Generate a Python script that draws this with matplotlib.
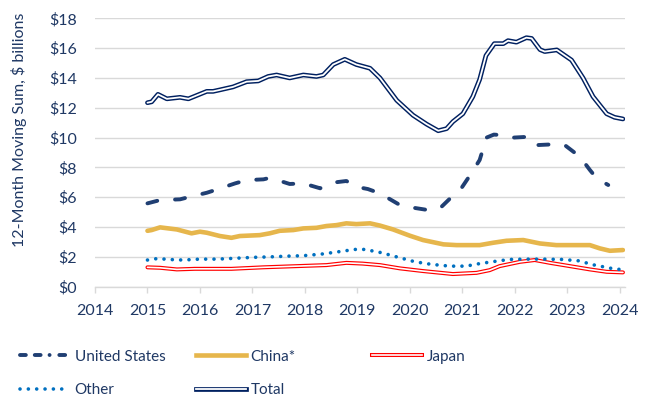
import matplotlib
matplotlib.use('Agg')
import matplotlib.pyplot as plt
from matplotlib.lines import Line2D
from matplotlib.legend_handler import HandlerTuple

plt.rcParams['font.family'] = ['Lato', 'DejaVu Sans']

NAVY_TXT = '#1F3864'
GRID = '#D9D9D9'

# Total (double navy line)
total_x = [2015.0, 2015.08, 2015.2, 2015.37, 2015.62, 2015.78, 2016.13, 2016.25, 2016.38,
           2016.63, 2016.89, 2017.11, 2017.3, 2017.46, 2017.71, 2017.97, 2018.22, 2018.35,
           2018.54, 2018.76, 2018.98, 2019.24, 2019.43, 2019.75, 2020.06, 2020.32, 2020.54,
           2020.7, 2020.82, 2021.01, 2021.2, 2021.33, 2021.45, 2021.61, 2021.78, 2021.87,
           2022.03, 2022.22, 2022.32, 2022.48, 2022.57, 2022.8, 2023.08, 2023.3, 2023.49,
           2023.75, 2023.9, 2024.06]
total_y = [12.34, 12.4, 12.9, 12.6, 12.7, 12.6, 13.1, 13.1, 13.2,
           13.4, 13.75, 13.8, 14.1, 14.2, 14.0, 14.2, 14.1, 14.2,
           14.9, 15.25, 14.9, 14.65, 14.0, 12.5, 11.5, 10.9, 10.46,
           10.6, 11.07, 11.6, 12.75, 13.9, 15.5, 16.3, 16.3, 16.5,
           16.4, 16.7, 16.65, 15.9, 15.77, 15.88, 15.2, 14.0, 12.75,
           11.6, 11.36, 11.25]

# United States (dashed)
us_x = [2015.0, 2015.24, 2015.62, 2015.81, 2016.13, 2016.35, 2016.67, 2016.89, 2017.21,
        2017.33, 2017.43, 2017.71, 2017.97, 2018.29, 2018.51, 2018.79, 2018.98, 2019.2,
        2019.43, 2019.81, 2020.06, 2020.35, 2020.57, 2020.79, 2020.98, 2021.17, 2021.33,
        2021.46, 2021.6, 2021.75, 2021.97, 2022.29, 2022.44, 2022.86, 2022.95, 2023.24,
        2023.43, 2023.56, 2023.78]
us_y = [5.59, 5.81, 5.86, 6.03, 6.3, 6.55, 6.93, 7.15, 7.2,
        7.3, 7.2, 6.89, 6.93, 6.6, 6.97, 7.09, 6.7, 6.55,
        6.26, 5.48, 5.3, 5.14, 5.25, 6.0, 6.6, 7.6, 8.5,
        10.0, 10.2, 10.17, 10.0, 10.06, 9.5, 9.57, 9.5, 8.72,
        7.83, 7.27, 6.82]

# China*
cn_x = [2015.0, 2015.08, 2015.24, 2015.56, 2015.84, 2016.0, 2016.13, 2016.38, 2016.6,
        2016.76, 2017.14, 2017.33, 2017.52, 2017.78, 2017.97, 2018.22, 2018.41, 2018.6,
        2018.79, 2018.98, 2019.24, 2019.43, 2019.68, 2020.0, 2020.25, 2020.64, 2020.89,
        2021.33, 2021.59, 2021.84, 2022.16, 2022.48, 2022.79, 2023.11, 2023.43, 2023.62,
        2023.81, 2024.06]
cn_y = [3.75, 3.8, 3.98, 3.84, 3.58, 3.69, 3.62, 3.4, 3.28,
        3.4, 3.46, 3.58, 3.75, 3.8, 3.91, 3.95, 4.07, 4.13,
        4.25, 4.2, 4.25, 4.1, 3.84, 3.42, 3.13, 2.84, 2.79,
        2.79, 2.95, 3.08, 3.13, 2.9, 2.79, 2.79, 2.79, 2.57,
        2.41, 2.46]

# Japan (double red line)
jp_x = [2015.0, 2015.24, 2015.56, 2015.9, 2016.6, 2017.2, 2017.84, 2018.41, 2018.79,
        2019.1, 2019.43, 2019.81, 2020.25, 2020.82, 2021.27, 2021.52, 2021.71, 2022.1,
        2022.38, 2022.67, 2023.05, 2023.43, 2023.75, 2024.06]
jp_y = [1.3, 1.27, 1.16, 1.2, 1.2, 1.3, 1.38, 1.45, 1.6,
        1.55, 1.45, 1.23, 1.05, 0.85, 0.93, 1.11, 1.38, 1.67,
        1.79, 1.6, 1.38, 1.16, 1.0, 0.96]

# Other (dotted)
ot_x = [2015.0, 2015.21, 2015.37, 2015.68, 2016.0, 2016.33, 2016.63, 2017.02, 2017.33,
        2017.65, 2017.97, 2018.32, 2018.63, 2018.95, 2019.14, 2019.3, 2019.46, 2019.78,
        2020.1, 2020.41, 2020.76, 2021.08, 2021.24, 2021.56, 2021.9, 2022.22, 2022.54,
        2022.89, 2023.21, 2023.52, 2023.84, 2024.0]
ot_y = [1.79, 1.9, 1.83, 1.79, 1.85, 1.85, 1.9, 1.97, 2.0,
        2.05, 2.08, 2.19, 2.34, 2.5, 2.5, 2.39, 2.28, 1.97,
        1.67, 1.5, 1.38, 1.38, 1.5, 1.67, 1.83, 1.85, 1.85,
        1.83, 1.74, 1.45, 1.23, 1.16]

y_ticks = list(range(0, 20, 2))
x_ticks = list(range(2014, 2025))

US_C, CN_C, JP_C, OT_C, TOT_C = '#203F73', '#E6B64C', '#FF0000', '#0070C0', '#002060'

fig = plt.figure(figsize=(6.56, 4.04), dpi=100)
ax = fig.add_axes([0.1448, 0.2903, 0.808, 0.6644])

ax.plot(us_x, us_y, color=US_C, lw=2.8, linestyle=(0, (2.6, 4.6)),
        dash_capstyle='round', solid_capstyle='round', zorder=3)
ax.plot(cn_x, cn_y, color=CN_C, lw=3.3, solid_capstyle='round', zorder=3)
ax.plot(jp_x, jp_y, color=JP_C, lw=2.9, solid_capstyle='round', zorder=3)
ax.plot(jp_x, jp_y, color='white', lw=1.2, solid_capstyle='round', zorder=3)
ax.plot(ot_x, ot_y, color=OT_C, lw=2.6, linestyle=(0, (0.01, 2.3)),
        dash_capstyle='round', zorder=3)
ax.plot(total_x, total_y, color=TOT_C, lw=3.4, solid_capstyle='round', zorder=4)
ax.plot(total_x, total_y, color='white', lw=1.3, solid_capstyle='round', zorder=4)

ax.set_xlim(2014, 2024.1)
ax.set_ylim(0, 18)
ax.set_yticks(y_ticks)
ax.set_yticklabels(['$%d' % v for v in y_ticks])
ax.set_xticks(x_ticks)
ax.grid(axis='y', color=GRID, lw=1.0)
ax.set_axisbelow(True)
for s in ['top', 'right', 'left']:
    ax.spines[s].set_visible(False)
ax.spines['bottom'].set_color(GRID)
ax.spines['bottom'].set_linewidth(1.0)
ax.tick_params(axis='y', length=0, pad=13, labelsize=11.5, labelcolor=NAVY_TXT)
ax.tick_params(axis='x', length=4.5, color=GRID, width=1.0, pad=8, labelsize=11.5,
               labelcolor=NAVY_TXT)

fig.text(19 / 656, 1 - 130 / 404, '12-Month Moving Sum, $ billions', rotation=90,
         ha='center', va='center', fontsize=11.5, color=NAVY_TXT)

# legend handles
h_us = Line2D([], [], color=US_C, lw=2.8, linestyle=(0, (1.5, 2.3, 1.5, 2.3, 0.01, 2.5)),
              dash_capstyle='round')
h_cn = Line2D([], [], color=CN_C, lw=3.3)
h_jp = (Line2D([], [], color=JP_C, lw=2.9), Line2D([], [], color='white', lw=1.2))
h_ot = Line2D([], [], color=OT_C, lw=2.6, linestyle=(0, (0.01, 2.3)), dash_capstyle='round')
h_tot = (Line2D([], [], color=TOT_C, lw=3.4), Line2D([], [], color='white', lw=1.3))

leg_kw = dict(loc='upper left', frameon=False, fontsize=11, handlelength=3.3,
              handletextpad=0.3, labelspacing=1.3, labelcolor=NAVY_TXT, borderpad=0,
              handler_map={tuple: HandlerTuple(ndivide=1, pad=0)})
columns = [
    ([h_us, h_ot], ['United States', 'Other'], 12),
    ([h_cn, h_tot], ['China*', 'Total'], 188),
    ([h_jp], ['Japan'], 364),
]
for handles, labels, xpx in columns:
    fig.legend(handles, labels, bbox_to_anchor=(xpx / 656, 1 - 342 / 404), **leg_kw)

fig.set_facecolor('white')
fig.savefig('out.png', dpi=100)
